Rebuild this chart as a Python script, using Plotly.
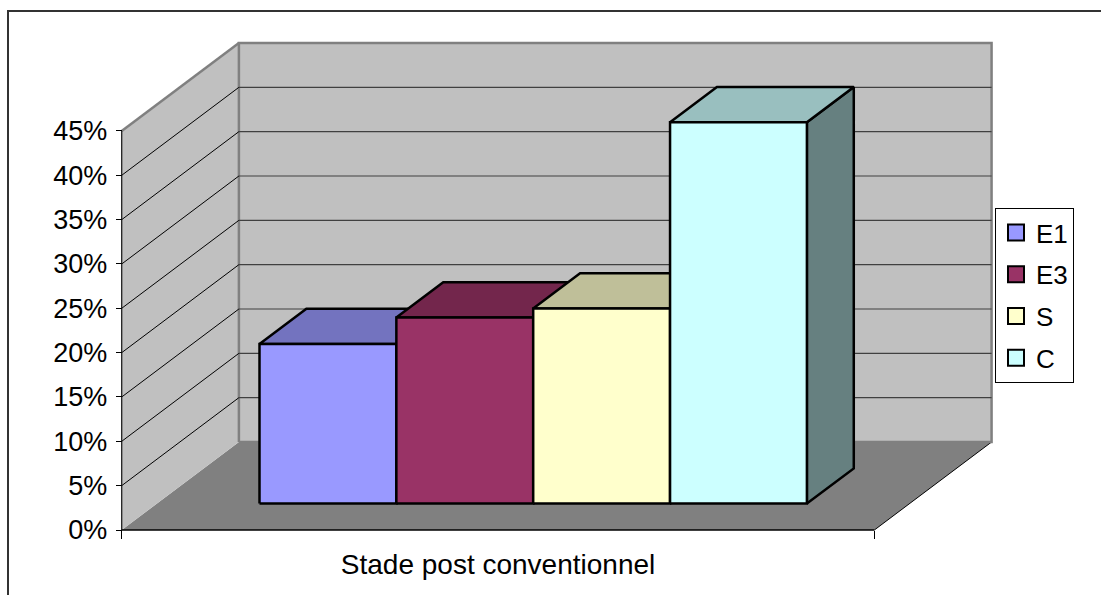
import plotly.graph_objects as go

# ---- data -----------------------------------------------------------------
series = ["E1", "E3", "S", "C"]
values = [18, 21, 22, 43]                      # percent
front_colors = ["#9999FF", "#993366", "#FFFFCC", "#CCFFFF"]
category = "Stade post conventionnel"
tick_values = [0, 5, 10, 15, 20, 25, 30, 35, 40, 45]
tick_labels = [f"{v}%" for v in tick_values]

# ---- geometry of the oblique 3D frame -------------------------------------
W, H = 1101, 595
PX_X0, PX_Y0 = 121.7, 530.0      # pixel of the front-left floor corner
UX = 136.85                      # pixels per bar width
UY = 8.867                       # pixels per percent
DX = 117.2 / UX                  # depth offset (full depth) along x, in bar widths
DY = 88.0 / UY                   # depth offset (full depth) along y, in percent
GAP = 0.75                       # side gap, in bar widths
FW = len(series) + 2 * GAP       # floor width
Y_MAX = tick_values[-1]
D0, D1 = 0.3, 0.7                # front / back of the bars, as fraction of depth

FONT = "Liberation Sans, Arial, sans-serif"


def proj(pts):
    xs, ys = [], []
    for p in pts:
        if p is None:
            xs.append(None)
            ys.append(None)
            continue
        x, d, y = p
        xs.append(x + d * DX)
        ys.append(y + d * DY)
    return xs, ys


def shade(hex_color, f):
    h = hex_color.lstrip("#")
    r, g, b = (int(h[i:i + 2], 16) for i in (0, 2, 4))
    return "#{:02X}{:02X}{:02X}".format(round(r * f), round(g * f), round(b * f))


fig = go.Figure()


def poly(pts, fill, line_color=None, line_width=0):
    xs, ys = proj(pts + [pts[0]])
    fig.add_trace(go.Scatter(
        x=xs, y=ys, mode="lines", fill="toself", fillcolor=fill,
        line=dict(color=line_color or fill, width=line_width),
        hoverinfo="skip", showlegend=False))


def path(pts, color, width):
    xs, ys = proj(pts)
    fig.add_trace(go.Scatter(
        x=xs, y=ys, mode="lines", line=dict(color=color, width=width),
        hoverinfo="skip", showlegend=False))


# floor
poly([(0, 0, 0), (FW, 0, 0), (FW, 1, 0), (0, 1, 0)], "#808080")
path([(FW, 0, 0), (FW, 1, 0)], "#000000", 1)

# left wall
poly([(0, 0, 0), (0, 1, 0), (0, 1, Y_MAX), (0, 0, Y_MAX)], "#C0C0C0")
path([(0, 0, Y_MAX), (0, 1, Y_MAX)], "#808080", 2.5)

# back wall
poly([(0, 1, 0), (FW, 1, 0), (FW, 1, Y_MAX), (0, 1, Y_MAX)], "#C0C0C0", "#808080", 2.5)

# gridlines
left_grid, back_grid = [], []
for v in tick_values[1:-1]:
    left_grid += [(0, 0, v), (0, 1, v), None]
    back_grid += [(0, 1, v), (FW, 1, v), None]
path(left_grid, "#000000", 1)
path(back_grid, "#404040", 1.2)

# axis lines
path([(0, 0, 0), (0, 0, Y_MAX)], "#202020", 1.3)
path([(0, 0, 0), (FW, 0, 0)], "#000000", 1.5)

# bars, drawn left to right so that each hides its neighbour's side
for i, (name, v, col) in enumerate(zip(series, values, front_colors)):
    x0, x1 = GAP + i, GAP + i + 1
    poly([(x1, D0, 0), (x1, D1, 0), (x1, D1, v), (x1, D0, v)], shade(col, 0.5), "#000000", 2.5)
    poly([(x0, D0, v), (x1, D0, v), (x1, D1, v), (x0, D1, v)], shade(col, 0.75), "#000000", 2.5)
    poly([(x0, D0, 0), (x1, D0, 0), (x1, D0, v), (x0, D0, v)], col, "#000000", 2.5)

# legend entries
for name, col in zip(series, front_colors):
    fig.add_trace(go.Scatter(
        x=[None], y=[None], mode="markers", name=name, legendgroup=name,
        marker=dict(symbol="square", size=16, color=col,
                    line=dict(color="#000000", width=2))))

fig.update_layout(
    width=W, height=H,
    margin=dict(l=0, r=0, t=0, b=0),
    paper_bgcolor="white", plot_bgcolor="white",
    font=dict(family=FONT, size=27, color="black"),
    xaxis=dict(
        range=[-PX_X0 / UX, (W - PX_X0) / UX],
        anchor="free", position=(H - PX_Y0) / H,
        showgrid=False, zeroline=False, showline=False,
        tickvals=[FW / 2], ticktext=[category], ticks="",
        ticklabelstandoff=15,
        tickfont=dict(family=FONT, size=28, color="black"),
        minor=dict(tickvals=[0, FW], ticks="outside", ticklen=8,
                   tickcolor="black", tickwidth=1, showgrid=False),
        fixedrange=True),
    yaxis=dict(
        range=[-(H - PX_Y0) / UY, PX_Y0 / UY],
        anchor="free", position=PX_X0 / W,
        showgrid=False, zeroline=False, showline=False,
        tickvals=tick_values, ticktext=tick_labels,
        ticks="outside", ticklen=6, tickcolor="black", tickwidth=1,
        ticklabelstandoff=3,
        tickfont=dict(family=FONT, size=27, color="black"),
        fixedrange=True),
    legend=dict(
        x=995 / W, y=1 - 208 / H, xanchor="left", yanchor="top",
        bgcolor="white", bordercolor="black", borderwidth=1,
        font=dict(family=FONT, size=26, color="black"),
        tracegroupgap=5, itemsizing="trace"),
    shapes=[dict(type="rect", xref="paper", yref="paper",
                 x0=8 / W, x1=1.02, y0=-0.02, y1=1 - 11 / H,
                 line=dict(color="#333333", width=2), layer="above")],
    showlegend=True,
)

fig.write_html("out.html")
